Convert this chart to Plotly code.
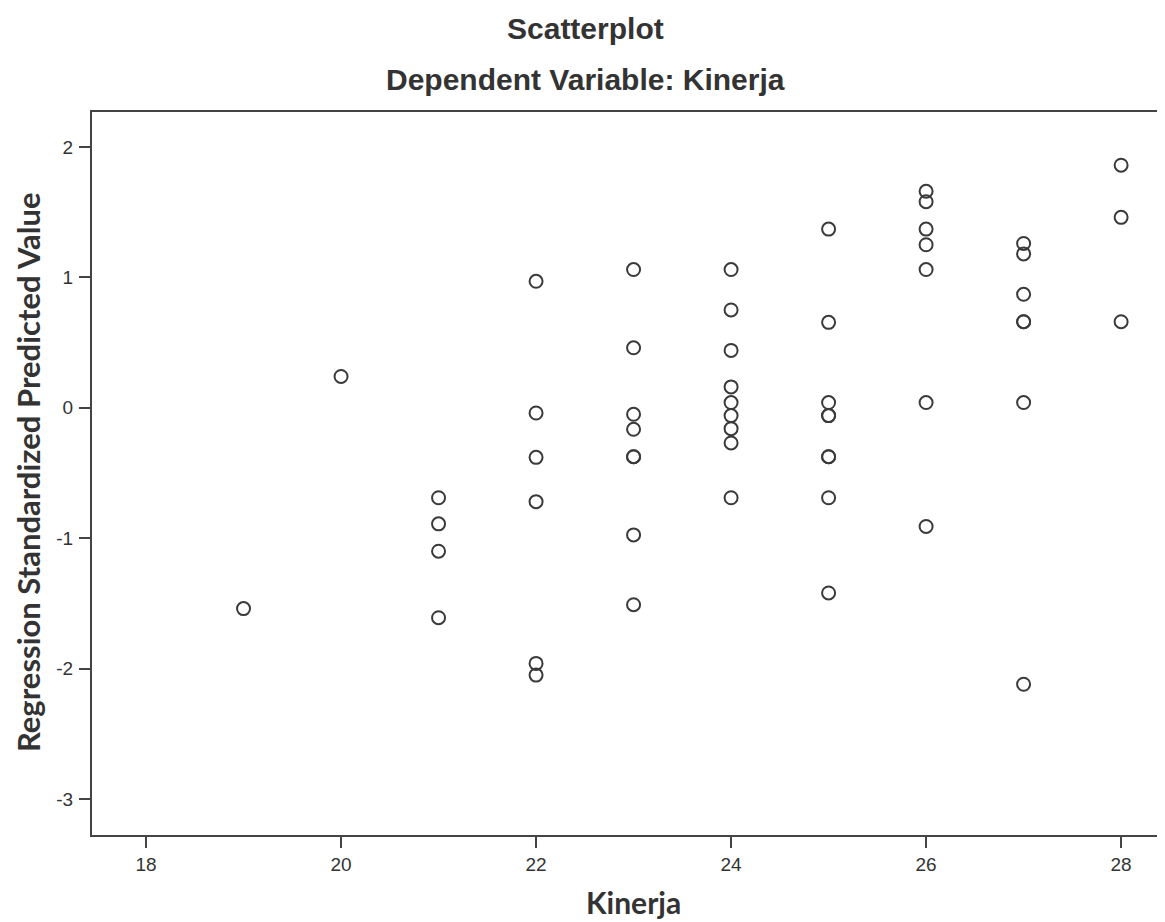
import plotly.graph_objects as go

# Data (Kinerja vs regression standardized predicted value)
pred_19 = [-1.54]
pred_20 = [0.24]
pred_21 = [-0.69, -0.89, -1.10, -1.61]
pred_22 = [0.97, -0.04, -0.38, -0.72, -1.96, -2.05]
pred_23 = [1.06, 0.46, -0.05, -0.165, -0.375, -0.375, -0.975, -1.51]
pred_24 = [1.06, 0.75, 0.44, 0.16, 0.04, -0.06, -0.16, -0.27, -0.69]
pred_25 = [1.37, 0.655, 0.04, -0.06, -0.06, -0.375, -0.375, -0.69, -1.42]
pred_26 = [1.66, 1.58, 1.37, 1.25, 1.06, 0.04, -0.91]
pred_27 = [1.26, 1.18, 0.87, 0.66, 0.66, 0.04, -2.12]
pred_28 = [1.86, 1.46, 0.66]

kinerja_levels = [19, 20, 21, 22, 23, 24, 25, 26, 27, 28]
pred_groups = [pred_19, pred_20, pred_21, pred_22, pred_23,
               pred_24, pred_25, pred_26, pred_27, pred_28]

x_vals = []
y_vals = []
for k, vals in zip(kinerja_levels, pred_groups):
    x_vals += [k] * len(vals)
    y_vals += vals

x_ticks = [18, 20, 22, 24, 26, 28]
x_tick_labels = ["18", "20", "22", "24", "26", "28"]
y_ticks = [-3, -2, -1, 0, 1, 2]
y_tick_labels = ["-3", "-2", "-1", "0", "1", "2"]

title_main = "Scatterplot"
title_sub = "Dependent Variable: Kinerja"
x_title = "Kinerja"
y_title = "Regression Standardized Predicted Value"

ink = "#3a3a3a"

fig = go.Figure()
fig.add_trace(go.Scatter(
    x=x_vals, y=y_vals, mode="markers",
    marker=dict(symbol="circle-open", size=13, color=ink, line=dict(width=2, color=ink)),
    showlegend=False, hoverinfo="x+y",
))

axis_common = dict(
    showgrid=False, zeroline=False, showline=True, linecolor="#444", linewidth=2,
    ticks="outside", ticklen=11, tickwidth=2, tickcolor="#444",
    tickfont=dict(family="Liberation Sans, Arial, sans-serif", size=19, color="#333"),
)

# The page body has an 8px margin, so the figure is sized to end at the window edge.
fig.update_layout(
    width=1157, height=914,
    margin=dict(l=84, r=0, t=104, b=87),
    paper_bgcolor="white", plot_bgcolor="white",
    xaxis=dict(range=[17.446, 28.45], tickvals=x_ticks, ticktext=x_tick_labels,
               mirror=True, ticklabelstandoff=0, **axis_common),
    yaxis=dict(range=[-3.276, 2.268], tickvals=y_ticks, ticktext=y_tick_labels,
               mirror=False, ticklabelstandoff=2, **axis_common),
    annotations=[
        dict(text="<b>%s</b>" % title_main, xref="paper", yref="paper", x=0.4595, y=1.1148,
             showarrow=False, xanchor="center", yanchor="middle",
             font=dict(family="Liberation Sans, Arial, sans-serif", size=30, color="#333")),
        dict(text="<b>%s</b>" % title_sub, xref="paper", yref="paper", x=0.4595, y=1.0456,
             showarrow=False, xanchor="center", yanchor="middle",
             font=dict(family="Liberation Sans, Arial, sans-serif", size=30, color="#333")),
        dict(text="<b>%s</b>" % x_title, xref="paper", yref="paper", x=0.505, y=-0.092,
             showarrow=False, xanchor="center", yanchor="middle",
             font=dict(family="Lato, sans-serif", size=30, color="#333")),
        dict(text="<b>%s</b>" % y_title, xref="paper", yref="paper", x=-0.0596, y=0.502,
             showarrow=False, xanchor="center", yanchor="middle", textangle=-90,
             font=dict(family="Lato, sans-serif", size=31, color="#333")),
    ],
)

fig.write_html("out.html")
